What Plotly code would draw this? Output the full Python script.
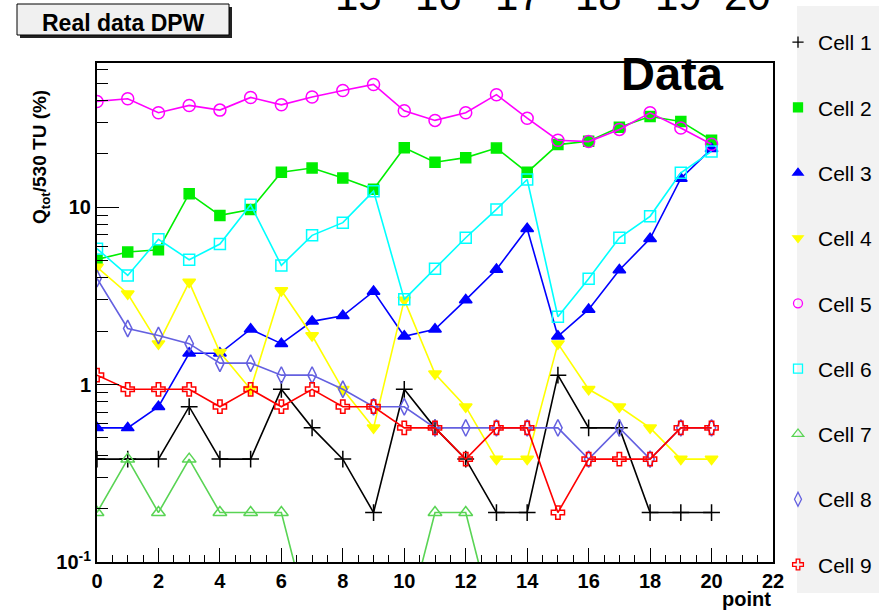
import plotly.graph_objects as go

# ---- data: charge fraction per cell (% of 530 TU) for each point ----
points = list(range(21))

cell_names = ["Cell 1", "Cell 2", "Cell 3", "Cell 4", "Cell 5",
              "Cell 6", "Cell 7", "Cell 8", "Cell 9"]

cell1 = [0.38, 0.38, 0.38, 0.75, 0.38, 0.38, 0.94, 0.57, 0.38, 0.19, 0.94,
         0.57, 0.38, 0.19, 0.19, 1.13, 0.57, 0.57, 0.19, 0.19, 0.19]
cell2 = [5.07, 5.58, 5.75, 11.9, 8.98, 9.7, 15.7, 16.6, 14.6, 12.6, 21.6,
         17.9, 19.0, 21.5, 15.7, 22.5, 23.5, 28.2, 32.4, 30.4, 23.8]
cell3 = [0.57, 0.57, 0.75, 1.5, 1.5, 2.05, 1.7, 2.27, 2.44, 3.35, 1.87,
         2.05, 3.0, 4.45, 7.55, 1.87, 2.65, 4.42, 6.64, 14.5, 21.3]
cell4 = [4.59, 3.25, 1.70, 3.78, 1.52, 0.94, 3.39, 1.89, 0.94, 0.57, 3.0,
         1.15, 0.75, 0.38, 0.38, 1.70, 0.94, 0.75, 0.57, 0.38, 0.38]
cell5 = [39.4, 40.8, 34.0, 37.4, 35.2, 41.5, 37.7, 41.7, 45.4, 49.1, 34.9,
         30.8, 34.0, 43.0, 31.7, 23.8, 23.4, 27.4, 34.0, 27.9, 22.6]
cell6 = [5.83, 4.12, 6.58, 5.05, 6.19, 10.3, 4.69, 6.93, 8.17, 12.3, 3.02,
         4.5, 6.72, 9.7, 14.3, 2.41, 3.95, 6.72, 8.87, 15.6, 20.6]
cell7 = [0.19, 0.38, 0.19, 0.38, 0.19, 0.19, 0.19, 0, 0, 0, 0,
         0.19, 0.19, 0, 0, 0, 0, 0, 0, 0, 0]
cell8 = [3.96, 2.07, 1.89, 1.70, 1.32, 1.32, 1.13, 1.13, 0.94, 0.75, 0.75,
         0.57, 0.57, 0.57, 0.57, 0.57, 0.38, 0.57, 0.38, 0.57, 0.57]
cell9 = [1.13, 0.94, 0.94, 0.94, 0.75, 0.94, 0.75, 0.94, 0.75, 0.75, 0.57,
         0.57, 0.38, 0.57, 0.57, 0.19, 0.38, 0.38, 0.38, 0.57, 0.57]

cells = [cell1, cell2, cell3, cell4, cell5, cell6, cell7, cell8, cell9]

y_tick_vals = [0.1, 1, 10]
y_tick_text = ["10<sup>-1</sup>", "1", "10"]
run_labels = ["15", "16", "17", "18", "19", "20"]

# ---- styling ----
FONT = "Liberation Sans, Arial, Helvetica, sans-serif"
colors = ["#000000", "#00ee00", "#0000ff", "#ffff00", "#ff00ff",
          "#00ffff", "#59d454", "#6460e0", "#ff0000"]
symbols = ["cross-thin-open", "square", "triangle-up", "triangle-down",
           "circle-open", "square-open", "triangle-up-open",
           "diamond-tall-open", "cross-open"]
sizes = [12, 10, 11, 11, 12, 11, 12, 12, 11]
legend_sizes = [8, 9, 9, 9, 9, 9, 10, 10, 9]
LOG_FLOOR = 0.04  # empty entries are pushed below the visible log range

# plot frame in pixels (used for placing decorations in paper units)
L, R, T, B = 97, 773, 63, 562


def px_x(p):
    return (p - L) / (R - L)


def px_y(p):
    return (B - p) / (B - T)


fig = go.Figure()

for i, (name, vals) in enumerate(zip(cell_names, cells)):
    yv = [v if v > 0 else LOG_FLOOR for v in vals]
    fig.add_trace(go.Scatter(
        x=points, y=yv, mode="lines+markers", name=name,
        legendgroup=name, showlegend=False,
        line=dict(color=colors[i], width=1.6),
        marker=dict(symbol=symbols[i], size=sizes[i], color=colors[i],
                    line=dict(color=colors[i], width=1.5)),
    ))

# legend entries show the marker only
for i, name in enumerate(cell_names):
    fig.add_trace(go.Scatter(
        x=[None], y=[None], mode="markers", name=name,
        legendgroup=name, showlegend=True,
        marker=dict(symbol=symbols[i], size=legend_sizes[i], color=colors[i],
                    line=dict(color=colors[i], width=1.3)),
    ))

shapes = [
    # legend panel
    dict(type="rect", xref="paper", yref="paper",
         x0=px_x(797), x1=px_x(879), y0=px_y(593), y1=px_y(6),
         fillcolor="#f2f2f2", line=dict(width=0), layer="below"),
    # title box shadow and box
    dict(type="rect", xref="paper", yref="paper",
         x0=px_x(20), x1=px_x(232), y0=px_y(38), y1=px_y(7),
         fillcolor="#222222", line=dict(width=0)),
    dict(type="rect", xref="paper", yref="paper",
         x0=px_x(17), x1=px_x(229), y0=px_y(35), y1=px_y(4),
         fillcolor="#f0f0f0", line=dict(color="black", width=1)),
]

annotations = [
    dict(text="Real data DPW", x=px_x(123), y=px_y(22.5),
         font=dict(family=FONT, size=23, color="black", weight="bold")),
    dict(text="Data", x=px_x(672), y=px_y(73.5),
         font=dict(family=FONT, size=47, color="black", weight="bold")),
    dict(text="Q<sub>tot</sub>/530 TU (%)", x=px_x(41), y=px_y(157),
         textangle=-90,
         font=dict(family=FONT, size=19, color="black", weight="bold")),
    dict(text="point", x=1.0, xanchor="right", y=px_y(599),
         font=dict(family=FONT, size=20, color="black", weight="bold")),
]
run_centers = [358.5, 438.5, 518.5, 598.5, 678.5, 747.5]
for lab, cx in zip(run_labels, run_centers):
    annotations.append(dict(text=lab, x=px_x(cx), y=px_y(-4.6),
                            font=dict(family=FONT, size=42, color="black")))
for a in annotations:
    a.setdefault("xref", "paper")
    a.setdefault("yref", "paper")
    a.setdefault("showarrow", False)
    a.setdefault("xanchor", "center")
    a.setdefault("yanchor", "middle")

minor_y = [m * 10 ** e for e in (-1, 0, 1) for m in range(2, 10) if m * 10 ** e < 65]

fig.update_layout(
    width=892, height=611, autosize=False,
    margin=dict(l=L, r=892 - R, t=T, b=611 - B, pad=0),
    paper_bgcolor="white", plot_bgcolor="white",
    font=dict(family=FONT, color="black"),
    showlegend=True,
    legend=dict(x=px_x(778), xanchor="left", y=px_y(22), yanchor="top",
                bgcolor="rgba(0,0,0,0)", borderwidth=0,
                font=dict(family=FONT, size=21, color="black"),
                traceorder="grouped", tracegroupgap=35,
                itemwidth=30, maxheight=611),
    shapes=shapes,
    annotations=annotations,
    xaxis=dict(
        range=[0, 22], tickmode="linear", tick0=0, dtick=2,
        ticks="inside", ticklen=14, tickwidth=1.3, tickcolor="black",
        minor=dict(ticks="inside", ticklen=7, tickwidth=1.2,
                   tickcolor="black", tick0=0, dtick=0.5),
        showline=True, linecolor="black", linewidth=2, mirror=True,
        showgrid=False, zeroline=False,
        tickfont=dict(family=FONT, size=20, color="black", weight="bold"),
    ),
    yaxis=dict(
        type="log", range=[-1, 1.812],
        tickmode="array", tickvals=y_tick_vals, ticktext=y_tick_text,
        ticks="inside", ticklen=22, tickwidth=1.3, tickcolor="black",
        minor=dict(ticks="inside", ticklen=11, tickwidth=1.2,
                   tickcolor="black", tickmode="array", tickvals=minor_y),
        showline=True, linecolor="black", linewidth=2, mirror=True,
        showgrid=False, zeroline=False,
        tickfont=dict(family=FONT, size=20, color="black", weight="bold"),
    ),
)

fig.write_html("out.html")
